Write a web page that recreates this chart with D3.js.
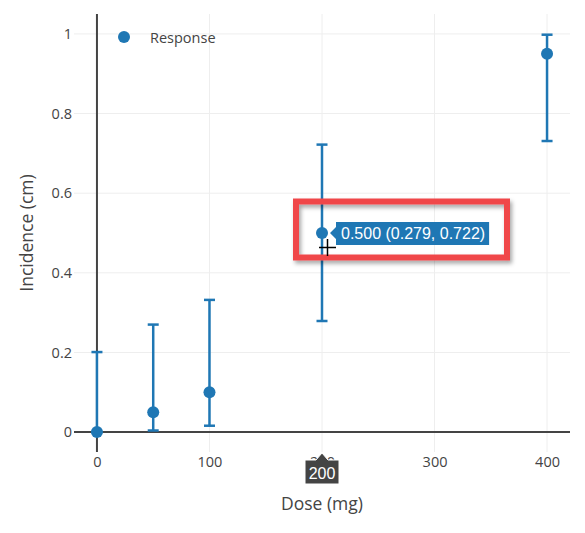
<!DOCTYPE html>
<html>
<head>
<meta charset="utf-8">
<script src="https://cdn.jsdelivr.net/npm/d3@7"></script>
<style>
  body { margin: 0; background: #fff; }
  svg { display: block; font-family: "Open Sans", sans-serif; }
</style>
</head>
<body>
<svg width="585" height="533"></svg>
<script>
const doses = [0, 50, 100, 200, 400];
const response = [0, 0.05, 0.1, 0.5, 0.95];
const lower = [0, 0.004, 0.016, 0.279, 0.731];
const upper = [0.201, 0.27, 0.332, 0.722, 0.998];
const xTicks = [0, 100, 200, 300, 400];
const yTicks = [0, 0.2, 0.4, 0.6, 0.8, 1];
const hoverIndex = 3;

const svg = d3.select('svg');
const blue = '#1f77b4';
const margin = { top: 14, right: 15, bottom: 81, left: 74 };
const width = +svg.attr('width');
const height = +svg.attr('height');

const xScale = d3.scaleLinear().domain([-20.4, 420.4]).range([margin.left, width - margin.right]);
const yScale = d3.scaleLinear().domain([-0.05, 1.05]).range([height - margin.bottom, margin.top]);

const data = doses.map((d, i) => ({ x: d, y: response[i], lo: lower[i], hi: upper[i] }));

// grid
const grid = svg.append('g');
grid.selectAll('.gx').data(xTicks.filter(d => d !== 0)).enter().append('line')
  .attr('x1', d => xScale(d)).attr('x2', d => xScale(d))
  .attr('y1', margin.top).attr('y2', height - margin.bottom)
  .attr('stroke', '#eee').attr('stroke-width', 1);
grid.selectAll('.gy').data(yTicks.filter(d => d !== 0)).enter().append('line')
  .attr('x1', margin.left).attr('x2', width - margin.right)
  .attr('y1', d => yScale(d)).attr('y2', d => yScale(d))
  .attr('stroke', '#eee').attr('stroke-width', 1);

// zero lines
svg.append('line')
  .attr('x1', xScale(0)).attr('x2', xScale(0))
  .attr('y1', margin.top).attr('y2', height - margin.bottom)
  .attr('stroke', '#444').attr('stroke-width', 2);
svg.append('line')
  .attr('x1', margin.left).attr('x2', width - margin.right)
  .attr('y1', yScale(0)).attr('y2', yScale(0))
  .attr('stroke', '#444').attr('stroke-width', 2);

// axes (labels only)
const xAxis = svg.append('g')
  .attr('transform', `translate(0,${height - margin.bottom})`)
  .call(d3.axisBottom(xScale).tickValues(xTicks).tickSize(0).tickPadding(5));
const yAxis = svg.append('g')
  .attr('transform', `translate(${margin.left},0)`)
  .call(d3.axisLeft(yScale).tickValues(yTicks).tickSize(0).tickPadding(2).tickFormat(d3.format('~g')));
[xAxis, yAxis].forEach(a => {
  a.select('.domain').remove();
  a.selectAll('text').attr('fill', '#444').style('font-size', '14.5px').style('font-family', '"Open Sans", sans-serif');
});

// axis titles
svg.append('text')
  .attr('x', xScale(200)).attr('y', 510)
  .attr('text-anchor', 'middle').attr('fill', '#444')
  .style('font-size', '17.5px').text('Dose (mg)');
svg.append('text')
  .attr('transform', `translate(33,${yScale(0.5)}) rotate(-90)`)
  .attr('text-anchor', 'middle').attr('fill', '#444')
  .style('font-size', '17.5px').text('Incidence (cm)');

// error bars
const eb = svg.append('g').attr('stroke', blue).attr('stroke-width', 2.5);
eb.selectAll('.v').data(data).enter().append('line')
  .attr('x1', d => xScale(d.x)).attr('x2', d => xScale(d.x))
  .attr('y1', d => yScale(d.lo)).attr('y2', d => yScale(d.hi));
eb.selectAll('.t').data(data).enter().append('line')
  .attr('x1', d => xScale(d.x) - 5.5).attr('x2', d => xScale(d.x) + 5.5)
  .attr('y1', d => yScale(d.hi)).attr('y2', d => yScale(d.hi));
eb.selectAll('.b').data(data).enter().append('line')
  .attr('x1', d => xScale(d.x) - 5.5).attr('x2', d => xScale(d.x) + 5.5)
  .attr('y1', d => yScale(d.lo)).attr('y2', d => yScale(d.lo));

// points
svg.selectAll('.pt').data(data).enter().append('circle')
  .attr('cx', d => xScale(d.x)).attr('cy', d => yScale(d.y))
  .attr('r', 6).attr('fill', blue);

// legend
svg.append('circle').attr('cx', 124).attr('cy', 37).attr('r', 6).attr('fill', blue);
svg.append('text').attr('x', 150).attr('y', 43).attr('fill', '#444')
  .style('font-size', '14.5px').text('Response');

// hover label on point
const hp = data[hoverIndex];
const hx = xScale(hp.x), hy = yScale(hp.y);
const hoverText = `${d3.format('.3f')(hp.y)} (${d3.format('.3f')(hp.lo)}, ${d3.format('.3f')(hp.hi)})`;
const hl = svg.append('g');
const hlText = hl.append('text')
  .attr('x', hx + 19).attr('y', hy + 6)
  .attr('fill', '#fff')
  .style('font-family', '"Liberation Sans", Arial, sans-serif')
  .style('font-size', '16px').text(hoverText);
const tw = hlText.node().getComputedTextLength();
hl.insert('path', 'text')
  .attr('d', `M${hx + 8},${hy} L${hx + 14},${hy - 6} L${hx + 14},${hy - 11} L${hx + 23 + tw},${hy - 11} L${hx + 23 + tw},${hy + 12} L${hx + 14},${hy + 12} L${hx + 14},${hy + 6} Z`)
  .attr('fill', blue);

// x hover label
const xl = svg.append('g');
const bx = hx, by = height - margin.bottom + 1;
xl.append('path')
  .attr('d', `M${bx},${by} L${bx + 6},${by + 7} L${bx + 17},${by + 7} L${bx + 17},${by + 31} L${bx - 17},${by + 31} L${bx - 17},${by + 7} L${bx - 6},${by + 7} Z`)
  .attr('fill', '#444').attr('stroke', '#fff').attr('stroke-width', 1);
xl.append('text')
  .attr('x', bx).attr('y', by + 26)
  .attr('text-anchor', 'middle').attr('fill', '#fff')
  .style('font-family', '"Liberation Sans", Arial, sans-serif')
  .style('font-size', '16px').text(String(hp.x));

// red highlight box with shadow
const defs = svg.append('defs');
const f = defs.append('filter').attr('id', 'shadow').attr('x', '-10%').attr('y', '-20%').attr('width', '130%').attr('height', '150%');
f.append('feDropShadow').attr('dx', 2).attr('dy', 3).attr('stdDeviation', 2).attr('flood-color', '#000').attr('flood-opacity', 0.35);
svg.append('rect')
  .attr('x', 296).attr('y', 201.5).attr('width', 211).attr('height', 56)
  .attr('fill', 'none').attr('stroke', '#f0474a').attr('stroke-width', 6)
  .attr('filter', 'url(#shadow)');

// cursor crosshair
const cur = svg.append('g').attr('stroke', '#000').attr('stroke-width', 1.5);
cur.append('line').attr('x1', 319).attr('x2', 336).attr('y1', 247.5).attr('y2', 247.5);
cur.append('line').attr('x1', 327.5).attr('x2', 327.5).attr('y1', 239).attr('y2', 256);
</script>
</body>
</html>
